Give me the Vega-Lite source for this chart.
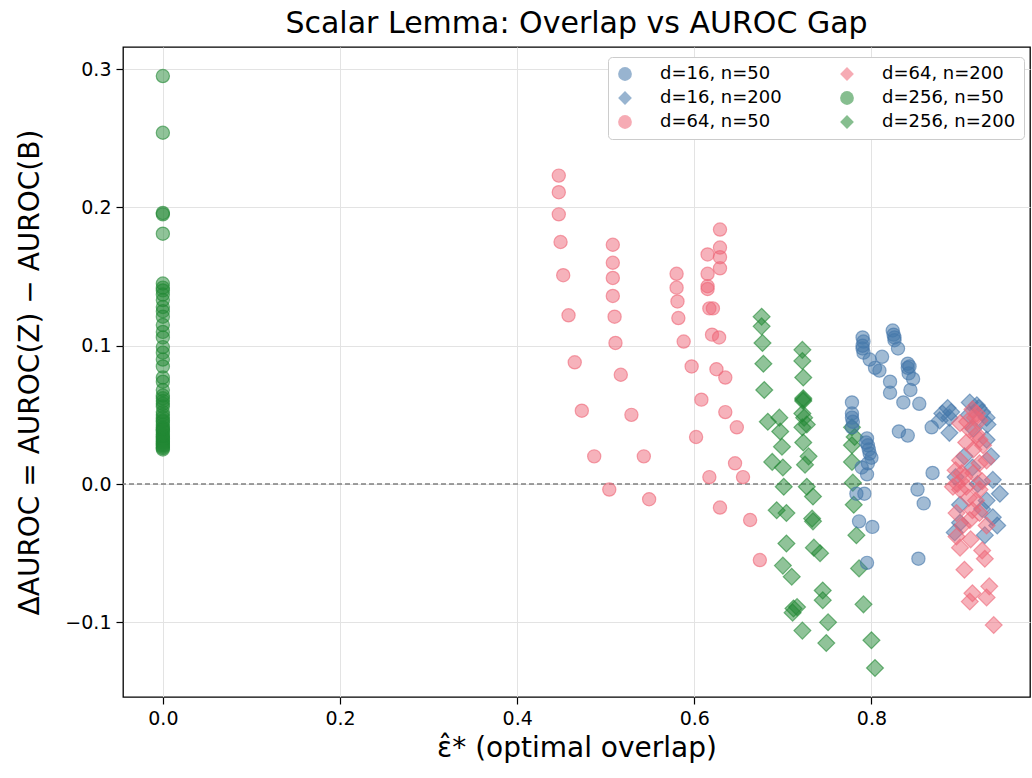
{
  "$schema": "https://vega.github.io/schema/vega-lite/v6.json",
  "width": 907,
  "height": 650,
  "autosize": "none",
  "padding": {"left": 123, "top": 47, "right": 2, "bottom": 81},
  "background": "white",
  "title": {"text": "Scalar Lemma: Overlap vs AUROC Gap", "fontSize": 30, "font": "DejaVu Sans", "fontWeight": "normal", "color": "#000", "offset": 8, "anchor": "middle"},
  "config": {
    "font": "DejaVu Sans",
    "view": {"stroke": "#000", "strokeWidth": 1.3},
    "axis": {"domain": false, "grid": true, "gridColor": "#e3e3e3", "gridWidth": 1, "tickColor": "#000", "tickSize": 7, "tickWidth": 1.2, "labelFontSize": 19, "labelColor": "#000", "titleFontSize": 28, "titleFontWeight": "normal", "titleColor": "#000", "labelPadding": 5}
  },
  "datasets": {
    "pts": [
      {"s":"d=256, n=50","x":0,"y":0.295},{"s":"d=256, n=50","x":0,"y":0.254},{"s":"d=256, n=50","x":0,"y":0.196},{"s":"d=256, n=50","x":0,"y":0.195},{"s":"d=256, n=50","x":0,"y":0.181},{"s":"d=256, n=50","x":0,"y":0.145},{"s":"d=256, n=50","x":0,"y":0.142},{"s":"d=256, n=50","x":0,"y":0.140},{"s":"d=256, n=50","x":0,"y":0.133},{"s":"d=256, n=50","x":0,"y":0.128},
      {"s":"d=256, n=50","x":0,"y":0.121},{"s":"d=256, n=50","x":0,"y":0.115},{"s":"d=256, n=50","x":0,"y":0.110},{"s":"d=256, n=50","x":0,"y":0.106},{"s":"d=256, n=50","x":0,"y":0.099},{"s":"d=256, n=50","x":0,"y":0.090},{"s":"d=256, n=50","x":0,"y":0.085},{"s":"d=256, n=50","x":0,"y":0.077},{"s":"d=256, n=50","x":0,"y":0.068},{"s":"d=256, n=50","x":0,"y":0.062},
      {"s":"d=256, n=50","x":0,"y":0.060},{"s":"d=256, n=50","x":0,"y":0.056},{"s":"d=256, n=50","x":0,"y":0.050},{"s":"d=256, n=50","x":0,"y":0.048},{"s":"d=256, n=50","x":0,"y":0.045},{"s":"d=256, n=50","x":0,"y":0.041},{"s":"d=256, n=50","x":0,"y":0.038},{"s":"d=256, n=50","x":0,"y":0.036},{"s":"d=256, n=50","x":0,"y":0.034},{"s":"d=256, n=50","x":0,"y":0.031},
      {"s":"d=256, n=50","x":0,"y":0.030},{"s":"d=256, n=50","x":0,"y":0.027},{"s":"d=256, n=50","x":0,"y":0.025},{"s":"d=256, n=50","x":0,"y":0.043},{"s":"d=256, n=50","x":0,"y":0.039},{"s":"d=256, n=50","x":0,"y":0.033},{"s":"d=256, n=50","x":0,"y":0.029},{"s":"d=256, n=50","x":0,"y":0.052},{"s":"d=256, n=50","x":0,"y":0.058},{"s":"d=256, n=50","x":0,"y":0.074},
      {"s":"d=256, n=50","x":0,"y":0.095},{"s":"d=256, n=50","x":0,"y":0.125},{"s":"d=256, n=50","x":0,"y":0.137},{"s":"d=256, n=50","x":0,"y":0.046},{"s":"d=256, n=50","x":0,"y":0.032},{"s":"d=256, n=50","x":0,"y":0.028},{"s":"d=256, n=50","x":0,"y":0.035},{"s":"d=256, n=50","x":0,"y":0.040},{"s":"d=256, n=50","x":0,"y":0.026},{"s":"d=256, n=50","x":0,"y":0.064},

      {"s":"d=64, n=50","x":0.447,"y":0.223},{"s":"d=64, n=50","x":0.447,"y":0.211},{"s":"d=64, n=50","x":0.447,"y":0.195},{"s":"d=64, n=50","x":0.449,"y":0.175},{"s":"d=64, n=50","x":0.452,"y":0.151},{"s":"d=64, n=50","x":0.458,"y":0.122},{"s":"d=64, n=50","x":0.465,"y":0.088},{"s":"d=64, n=50","x":0.473,"y":0.053},{"s":"d=64, n=50","x":0.487,"y":0.020},{"s":"d=64, n=50","x":0.504,"y":-0.004},
      {"s":"d=64, n=50","x":0.508,"y":0.173},{"s":"d=64, n=50","x":0.508,"y":0.160},{"s":"d=64, n=50","x":0.508,"y":0.149},{"s":"d=64, n=50","x":0.508,"y":0.136},{"s":"d=64, n=50","x":0.510,"y":0.121},{"s":"d=64, n=50","x":0.511,"y":0.102},{"s":"d=64, n=50","x":0.517,"y":0.079},{"s":"d=64, n=50","x":0.529,"y":0.050},{"s":"d=64, n=50","x":0.543,"y":0.020},{"s":"d=64, n=50","x":0.549,"y":-0.011},
      {"s":"d=64, n=50","x":0.629,"y":0.184},{"s":"d=64, n=50","x":0.629,"y":0.171},{"s":"d=64, n=50","x":0.615,"y":0.166},{"s":"d=64, n=50","x":0.629,"y":0.164},{"s":"d=64, n=50","x":0.629,"y":0.156},{"s":"d=64, n=50","x":0.580,"y":0.152},{"s":"d=64, n=50","x":0.615,"y":0.152},{"s":"d=64, n=50","x":0.580,"y":0.142},{"s":"d=64, n=50","x":0.615,"y":0.143},{"s":"d=64, n=50","x":0.615,"y":0.141},
      {"s":"d=64, n=50","x":0.581,"y":0.132},{"s":"d=64, n=50","x":0.617,"y":0.127},{"s":"d=64, n=50","x":0.621,"y":0.127},{"s":"d=64, n=50","x":0.582,"y":0.120},{"s":"d=64, n=50","x":0.620,"y":0.108},{"s":"d=64, n=50","x":0.628,"y":0.106},{"s":"d=64, n=50","x":0.588,"y":0.103},{"s":"d=64, n=50","x":0.597,"y":0.085},{"s":"d=64, n=50","x":0.625,"y":0.083},{"s":"d=64, n=50","x":0.635,"y":0.077},
      {"s":"d=64, n=50","x":0.608,"y":0.061},{"s":"d=64, n=50","x":0.635,"y":0.052},{"s":"d=64, n=50","x":0.648,"y":0.041},{"s":"d=64, n=50","x":0.602,"y":0.034},{"s":"d=64, n=50","x":0.646,"y":0.015},{"s":"d=64, n=50","x":0.617,"y":0.005},{"s":"d=64, n=50","x":0.655,"y":0.005},{"s":"d=64, n=50","x":0.629,"y":-0.017},{"s":"d=64, n=50","x":0.663,"y":-0.026},{"s":"d=64, n=50","x":0.674,"y":-0.055},

      {"s":"d=256, n=200","x":0.676,"y":0.121},{"s":"d=256, n=200","x":0.676,"y":0.114},{"s":"d=256, n=200","x":0.677,"y":0.102},{"s":"d=256, n=200","x":0.678,"y":0.087},{"s":"d=256, n=200","x":0.679,"y":0.068},{"s":"d=256, n=200","x":0.683,"y":0.045},{"s":"d=256, n=200","x":0.696,"y":0.048},{"s":"d=256, n=200","x":0.697,"y":0.038},{"s":"d=256, n=200","x":0.699,"y":0.027},{"s":"d=256, n=200","x":0.688,"y":0.016},
      {"s":"d=256, n=200","x":0.700,"y":0.012},{"s":"d=256, n=200","x":0.701,"y":-0.002},{"s":"d=256, n=200","x":0.693,"y":-0.019},{"s":"d=256, n=200","x":0.704,"y":-0.021},{"s":"d=256, n=200","x":0.704,"y":-0.043},{"s":"d=256, n=200","x":0.700,"y":-0.059},{"s":"d=256, n=200","x":0.710,"y":-0.067},{"s":"d=256, n=200","x":0.716,"y":-0.089},{"s":"d=256, n=200","x":0.711,"y":-0.093},{"s":"d=256, n=200","x":0.722,"y":-0.106},
      {"s":"d=256, n=200","x":0.722,"y":0.097},{"s":"d=256, n=200","x":0.722,"y":0.089},{"s":"d=256, n=200","x":0.723,"y":0.077},{"s":"d=256, n=200","x":0.723,"y":0.062},{"s":"d=256, n=200","x":0.723,"y":0.061},{"s":"d=256, n=200","x":0.722,"y":0.051},{"s":"d=256, n=200","x":0.727,"y":0.043},{"s":"d=256, n=200","x":0.722,"y":0.041},{"s":"d=256, n=200","x":0.723,"y":0.030},{"s":"d=256, n=200","x":0.729,"y":0.020},
      {"s":"d=256, n=200","x":0.725,"y":0.014},{"s":"d=256, n=200","x":0.727,"y":-0.002},{"s":"d=256, n=200","x":0.734,"y":-0.009},{"s":"d=256, n=200","x":0.733,"y":-0.025},{"s":"d=256, n=200","x":0.735,"y":-0.046},{"s":"d=256, n=200","x":0.742,"y":-0.050},{"s":"d=256, n=200","x":0.745,"y":-0.077},{"s":"d=256, n=200","x":0.745,"y":-0.084},{"s":"d=256, n=200","x":0.751,"y":-0.100},{"s":"d=256, n=200","x":0.749,"y":-0.115},
      {"s":"d=256, n=200","x":0.778,"y":0.041},{"s":"d=256, n=200","x":0.781,"y":0.034},{"s":"d=256, n=200","x":0.778,"y":0.028},{"s":"d=256, n=200","x":0.778,"y":0.016},{"s":"d=256, n=200","x":0.779,"y":0.001},{"s":"d=256, n=200","x":0.780,"y":-0.015},{"s":"d=256, n=200","x":0.783,"y":-0.037},{"s":"d=256, n=200","x":0.786,"y":-0.061},{"s":"d=256, n=200","x":0.791,"y":-0.087},{"s":"d=256, n=200","x":0.800,"y":-0.113},
      {"s":"d=256, n=200","x":0.804,"y":-0.133},{"s":"d=256, n=200","x":0.723,"y":0.060},{"s":"d=256, n=200","x":0.724,"y":0.048},{"s":"d=256, n=200","x":0.734,"y":-0.027},{"s":"d=256, n=200","x":0.712,"y":-0.090},

      {"s":"d=16, n=50","x":0.790,"y":0.106},{"s":"d=16, n=50","x":0.790,"y":0.098},{"s":"d=16, n=50","x":0.791,"y":0.095},{"s":"d=16, n=50","x":0.798,"y":0.090},{"s":"d=16, n=50","x":0.812,"y":0.092},{"s":"d=16, n=50","x":0.804,"y":0.084},{"s":"d=16, n=50","x":0.809,"y":0.082},{"s":"d=16, n=50","x":0.821,"y":0.074},{"s":"d=16, n=50","x":0.821,"y":0.066},{"s":"d=16, n=50","x":0.824,"y":0.111},
      {"s":"d=16, n=50","x":0.825,"y":0.108},{"s":"d=16, n=50","x":0.826,"y":0.104},{"s":"d=16, n=50","x":0.830,"y":0.098},{"s":"d=16, n=50","x":0.841,"y":0.087},{"s":"d=16, n=50","x":0.841,"y":0.084},{"s":"d=16, n=50","x":0.847,"y":0.076},{"s":"d=16, n=50","x":0.844,"y":0.068},{"s":"d=16, n=50","x":0.836,"y":0.059},{"s":"d=16, n=50","x":0.854,"y":0.058},{"s":"d=16, n=50","x":0.831,"y":0.038},
      {"s":"d=16, n=50","x":0.841,"y":0.035},{"s":"d=16, n=50","x":0.868,"y":0.041},{"s":"d=16, n=50","x":0.869,"y":0.008},{"s":"d=16, n=50","x":0.852,"y":-0.004},{"s":"d=16, n=50","x":0.859,"y":-0.014},{"s":"d=16, n=50","x":0.853,"y":-0.054},{"s":"d=16, n=50","x":0.778,"y":0.059},{"s":"d=16, n=50","x":0.778,"y":0.051},{"s":"d=16, n=50","x":0.778,"y":0.048},{"s":"d=16, n=50","x":0.778,"y":0.041},
      {"s":"d=16, n=50","x":0.795,"y":0.033},{"s":"d=16, n=50","x":0.796,"y":0.028},{"s":"d=16, n=50","x":0.798,"y":0.022},{"s":"d=16, n=50","x":0.800,"y":0.019},{"s":"d=16, n=50","x":0.789,"y":0.012},{"s":"d=16, n=50","x":0.795,"y":0.007},{"s":"d=16, n=50","x":0.792,"y":-0.007},{"s":"d=16, n=50","x":0.783,"y":-0.007},{"s":"d=16, n=50","x":0.786,"y":-0.027},{"s":"d=16, n=50","x":0.801,"y":-0.031},
      {"s":"d=16, n=50","x":0.795,"y":-0.057},{"s":"d=16, n=50","x":0.791,"y":0.103},{"s":"d=16, n=50","x":0.826,"y":0.106},{"s":"d=16, n=50","x":0.842,"y":0.080},{"s":"d=16, n=50","x":0.797,"y":0.025},{"s":"d=16, n=50","x":0.779,"y":0.045},{"s":"d=16, n=50","x":0.794,"y":0.030},{"s":"d=16, n=50","x":0.790,"y":0.100},{"s":"d=16, n=50","x":0.843,"y":0.085},{"s":"d=16, n=50","x":0.796,"y":0.015},

      {"s":"d=16, n=200","x":0.886,"y":0.055},{"s":"d=16, n=200","x":0.880,"y":0.051},{"s":"d=16, n=200","x":0.888,"y":0.048},{"s":"d=16, n=200","x":0.877,"y":0.046},{"s":"d=16, n=200","x":0.911,"y":0.059},{"s":"d=16, n=200","x":0.919,"y":0.057},{"s":"d=16, n=200","x":0.925,"y":0.052},{"s":"d=16, n=200","x":0.930,"y":0.048},{"s":"d=16, n=200","x":0.931,"y":0.043},{"s":"d=16, n=200","x":0.888,"y":0.037},
      {"s":"d=16, n=200","x":0.930,"y":0.032},{"s":"d=16, n=200","x":0.914,"y":0.012},{"s":"d=16, n=200","x":0.937,"y":0.003},{"s":"d=16, n=200","x":0.945,"y":-0.007},{"s":"d=16, n=200","x":0.930,"y":-0.012},{"s":"d=16, n=200","x":0.937,"y":-0.024},{"s":"d=16, n=200","x":0.942,"y":-0.030},{"s":"d=16, n=200","x":0.894,"y":-0.035},{"s":"d=16, n=200","x":0.928,"y":-0.037},{"s":"d=16, n=200","x":0.900,"y":-0.028},
      {"s":"d=16, n=200","x":0.905,"y":0.020},{"s":"d=16, n=200","x":0.895,"y":0.005},{"s":"d=16, n=200","x":0.920,"y":0.000},{"s":"d=16, n=200","x":0.925,"y":-0.018},{"s":"d=16, n=200","x":0.900,"y":-0.015},{"s":"d=16, n=200","x":0.910,"y":0.050},{"s":"d=16, n=200","x":0.915,"y":0.040},{"s":"d=16, n=200","x":0.935,"y":0.020},{"s":"d=16, n=200","x":0.890,"y":0.052},{"s":"d=16, n=200","x":0.921,"y":0.055},

      {"s":"d=64, n=200","x":0.900,"y":0.044},{"s":"d=64, n=200","x":0.914,"y":0.054},{"s":"d=64, n=200","x":0.919,"y":0.051},{"s":"d=64, n=200","x":0.922,"y":0.046},{"s":"d=64, n=200","x":0.911,"y":0.039},{"s":"d=64, n=200","x":0.907,"y":0.030},{"s":"d=64, n=200","x":0.922,"y":0.032},{"s":"d=64, n=200","x":0.900,"y":0.017},{"s":"d=64, n=200","x":0.930,"y":0.017},{"s":"d=64, n=200","x":0.922,"y":0.015},
      {"s":"d=64, n=200","x":0.892,"y":-0.002},{"s":"d=64, n=200","x":0.900,"y":-0.004},{"s":"d=64, n=200","x":0.907,"y":-0.002},{"s":"d=64, n=200","x":0.922,"y":-0.004},{"s":"d=64, n=200","x":0.896,"y":-0.021},{"s":"d=64, n=200","x":0.911,"y":-0.026},{"s":"d=64, n=200","x":0.922,"y":-0.021},{"s":"d=64, n=200","x":0.914,"y":-0.019},{"s":"d=64, n=200","x":0.896,"y":-0.038},{"s":"d=64, n=200","x":0.900,"y":-0.046},
      {"s":"d=64, n=200","x":0.925,"y":-0.048},{"s":"d=64, n=200","x":0.928,"y":-0.054},{"s":"d=64, n=200","x":0.905,"y":-0.062},{"s":"d=64, n=200","x":0.933,"y":-0.074},{"s":"d=64, n=200","x":0.930,"y":-0.082},{"s":"d=64, n=200","x":0.914,"y":-0.079},{"s":"d=64, n=200","x":0.911,"y":-0.085},{"s":"d=64, n=200","x":0.938,"y":-0.102},{"s":"d=64, n=200","x":0.905,"y":0.005},{"s":"d=64, n=200","x":0.915,"y":0.008},
      {"s":"d=64, n=200","x":0.925,"y":0.002},{"s":"d=64, n=200","x":0.895,"y":0.010},{"s":"d=64, n=200","x":0.910,"y":-0.010},{"s":"d=64, n=200","x":0.918,"y":-0.012},{"s":"d=64, n=200","x":0.903,"y":-0.030},{"s":"d=64, n=200","x":0.915,"y":0.025},{"s":"d=64, n=200","x":0.926,"y":0.028},{"s":"d=64, n=200","x":0.908,"y":0.045},{"s":"d=64, n=200","x":0.919,"y":0.036},{"s":"d=64, n=200","x":0.897,"y":0.000},
      {"s":"d=64, n=200","x":0.930,"y":-0.030},{"s":"d=64, n=200","x":0.912,"y":-0.040},{"s":"d=64, n=200","x":0.902,"y":0.008},{"s":"d=64, n=200","x":0.917,"y":0.048}
    ],
    "zero": [{"y": 0}]
  },
  "layer": [
    {
      "data": {"name": "zero"},
      "mark": {"type": "rule", "color": "#808080", "strokeDash": [5, 3], "strokeWidth": 1.3},
      "encoding": {"y": {"field": "y", "type": "quantitative"}}
    },
    {
      "data": {"name": "pts"},
      "mark": {"type": "point", "filled": true, "fillOpacity": 0.5, "strokeOpacity": 0.6, "strokeWidth": 1.2},
      "encoding": {
        "x": {"field": "x", "type": "quantitative", "scale": {"domain": [-0.045, 0.979], "nice": false, "zero": false}, "axis": {"values": [0, 0.2, 0.4, 0.6, 0.8], "format": ".1f", "title": "ε̂* (optimal overlap)", "titlePadding": 6}},
        "y": {"field": "y", "type": "quantitative", "scale": {"domain": [-0.154, 0.316], "nice": false, "zero": false}, "axis": {"values": [-0.1, 0, 0.1, 0.2, 0.3], "format": ".1f", "title": "ΔAUROC = AUROC(Z) − AUROC(B)", "titlePadding": 20}},
        "color": {"field": "s", "type": "nominal", "title": null,
          "scale": {"domain": ["d=16, n=50", "d=16, n=200", "d=64, n=50", "d=64, n=200", "d=256, n=50", "d=256, n=200"], "range": ["#4477AA", "#4477AA", "#EE6677", "#EE6677", "#228833", "#228833"]},
          "legend": {"orient": "none", "legendX": 485, "legendY": 10, "columns": 2, "columnPadding": 56, "rowPadding": 6, "labelFontSize": 18, "labelColor": "#000", "labelOffset": 26, "padding": 8, "fillColor": "white", "strokeColor": "#cccccc", "cornerRadius": 4, "symbolOpacity": 0.55, "symbolSize": 190, "symbolStrokeWidth": 0}},
        "shape": {"field": "s", "type": "nominal", "scale": {"domain": ["d=16, n=50", "d=16, n=200", "d=64, n=50", "d=64, n=200", "d=256, n=50", "d=256, n=200"], "range": ["circle", "diamond", "circle", "diamond", "circle", "diamond"]}},
        "size": {"condition": {"test": "indexof(datum.s, 'n=200') >= 0", "value": 285}, "value": 175},
        "stroke": {"field": "s", "type": "nominal", "legend": null, "scale": {"domain": ["d=16, n=50", "d=16, n=200", "d=64, n=50", "d=64, n=200", "d=256, n=50", "d=256, n=200"], "range": ["#4477AA", "#4477AA", "#EE6677", "#EE6677", "#228833", "#228833"]}}
      }
    }
  ]
}
